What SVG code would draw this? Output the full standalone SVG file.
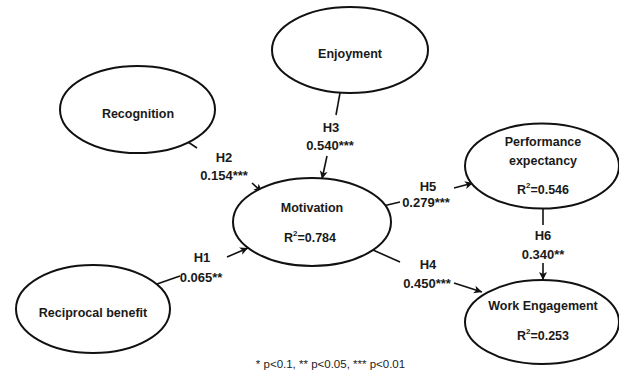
<svg xmlns="http://www.w3.org/2000/svg" width="619" height="375" viewBox="0 0 619 375">
<style>
.node ellipse{fill:#fff;stroke:#111;stroke-width:2}
.nt{font-family:"Liberation Sans",Arial,sans-serif;font-weight:bold;font-size:12.5px;fill:#1a1a1a;text-anchor:middle}
.lb{font-family:"Liberation Sans",Arial,sans-serif;font-weight:bold;font-size:13px;fill:#1a1a1a;text-anchor:middle}
.fn{font-family:"Liberation Sans",Arial,sans-serif;font-size:11.5px;fill:#222;text-anchor:middle}
#connectors line{stroke:#111;stroke-width:1.6;fill:none}
#connectors line.arr{marker-end:url(#ah)}
</style>
<defs>
<marker id="ah" markerUnits="userSpaceOnUse" markerWidth="10" markerHeight="10" refX="9" refY="5" orient="auto">
<path d="M1,1 L9,5 L1,9 L3,5 Z" fill="#111"/>
</marker>
</defs>
<rect width="619" height="375" fill="#fff"/>
<g id="connectors">
<line x1="340" y1="93" x2="336" y2="115"/>
<line class="arr" x1="327" y1="156" x2="322" y2="179"/>
<line x1="188" y1="142" x2="197" y2="148"/>
<line class="arr" x1="252" y1="183" x2="262" y2="192"/>
<line x1="157" y1="284" x2="180" y2="276"/>
<line class="arr" x1="227" y1="257" x2="248" y2="248"/>
<line x1="383" y1="206" x2="400" y2="202"/>
<line class="arr" x1="454" y1="188" x2="473" y2="183"/>
<line x1="373" y1="250" x2="400" y2="262"/>
<line class="arr" x1="454" y1="283" x2="482" y2="292"/>
<line x1="543" y1="209" x2="543" y2="225"/>
<line class="arr" x1="543" y1="263" x2="543" y2="280"/>
</g>
<g id="labels">
<text class="lb" x="331" y="131.5">H3</text>
<text class="lb" x="330" y="149.5">0.540***</text>
<text class="lb" x="224" y="161.5">H2</text>
<text class="lb" x="224" y="179.5">0.154***</text>
<text class="lb" x="202" y="261.5">H1</text>
<text class="lb" x="201" y="281.5">0.065**</text>
<text class="lb" x="428" y="190.5">H5</text>
<text class="lb" x="426" y="206.5">0.279***</text>
<text class="lb" x="428" y="268.5">H4</text>
<text class="lb" x="427" y="287.5">0.450***</text>
<text class="lb" x="543" y="239.5">H6</text>
<text class="lb" x="543" y="258.5">0.340**</text>
</g>
<g id="enjoyment" class="node">
<ellipse cx="350" cy="50" rx="78" ry="43"/>
<text class="nt" x="350" y="58">Enjoyment</text>
</g>
<g id="recognition" class="node">
<ellipse cx="137.5" cy="109.5" rx="77.5" ry="43.5"/>
<text class="nt" x="138" y="118">Recognition</text>
</g>
<g id="motivation" class="node">
<ellipse cx="312" cy="222" rx="79" ry="44"/>
<text class="nt" x="312" y="212">Motivation</text>
<text class="nt" x="310" y="242">R<tspan font-size="8" dy="-6">2</tspan><tspan dy="6">=0.784</tspan></text>
</g>
<g id="reciprocal" class="node">
<ellipse cx="93" cy="309" rx="77" ry="44"/>
<text class="nt" x="93" y="317">Reciprocal benefit</text>
</g>
<g id="performance" class="node">
<ellipse cx="542" cy="166" rx="77" ry="42.5"/>
<text class="nt" x="543" y="146">Performance</text>
<text class="nt" x="543" y="165">expectancy</text>
<text class="nt" x="543" y="194">R<tspan font-size="8" dy="-6">2</tspan><tspan dy="6">=0.546</tspan></text>
</g>
<g id="workengagement" class="node">
<ellipse cx="542" cy="322" rx="77" ry="42"/>
<text class="nt" x="543" y="310">Work Engagement</text>
<text class="nt" x="543" y="340">R<tspan font-size="8" dy="-6">2</tspan><tspan dy="6">=0.253</tspan></text>
</g>
<text class="fn" x="330.5" y="368">* p&lt;0.1, ** p&lt;0.05, *** p&lt;0.01</text>
</svg>
